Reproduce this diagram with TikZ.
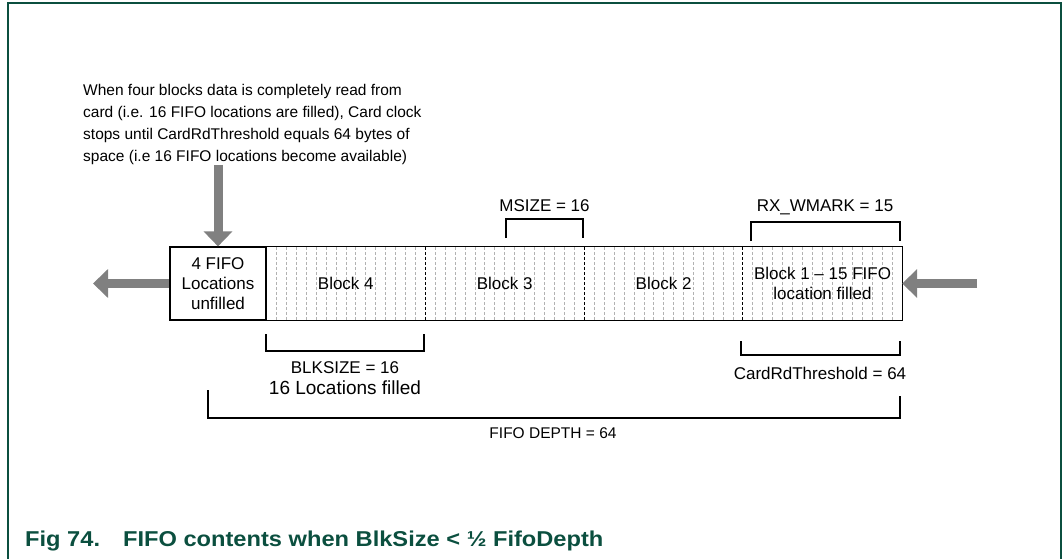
\documentclass[tikz,border=0pt]{standalone}
\usepackage{fontspec}
\setmainfont{Liberation Sans}
\newfontfamily\capfont[FakeStretch=1.1]{Liberation Sans}
\usepackage{xcolor}
\usetikzlibrary{arrows.meta, positioning, calc}

\definecolor{nxpgreen}{HTML}{0B4F3F}
\definecolor{arrowgrey}{HTML}{808080}

\tikzset{
  fifocell/.style={minimum height=73pt, inner sep=0pt, align=center, font=\fontsize{17}{20}\selectfont},
  bigarrow/.style={arrowgrey, line width=9pt, -{Triangle[width=28pt,length=15pt]}},
  bracket/.style={line width=1.2pt},
  lbl/.style={anchor=base, inner sep=0pt, font=\fontsize{17}{20}\selectfont},
  location/.style={gray!60, line width=0.6pt, dash pattern=on 3pt off 2pt},
  blockline/.style={line width=1pt, dash pattern=on 3pt off 2pt},
}

\begin{document}
\begin{tikzpicture}[x=1pt,y=-1pt]
  \useasboundingbox (0,0) rectangle (1063,559);
  % Rahmen
  \draw[nxpgreen, line width=2pt] (8,559) -- (8,3) -- (1061,3) -- (1061,559);

  % FIFO
  \node[fifocell, draw, line width=1.2pt, minimum width=96pt] (free) at (218,283.5) {4 FIFO\\Locations\\unfilled};
  \node[fifocell, minimum width=158pt, right=0pt of free] (blk4) {};
  \node[fifocell, minimum width=159pt, right=0pt of blk4] (blk3) {};
  \node[fifocell, minimum width=158pt, right=0pt of blk3] (blk2) {};
  \node[fifocell, minimum width=159pt, right=0pt of blk2] (blk1) {};
  \foreach \b in {blk4,blk3,blk2,blk1}
    \foreach \i in {1,...,15}
      \draw[location] ($(\b.north west)!\i/16!(\b.north east)$) -- ($(\b.south west)!\i/16!(\b.south east)$);
  \foreach \b in {blk4,blk3,blk2}
    \draw[blockline] (\b.north east) -- (\b.south east);
  \draw[line width=1.2pt] (free.north west) rectangle (blk1.south east);
  \node[fifocell] at (blk4) {Block 4};
  \node[fifocell] at (blk3) {Block 3};
  \node[fifocell] at (blk2) {Block 2};
  \node[fifocell] at (blk1) {Block 1 – 15 FIFO\\location filled};

  % Hinweis
  \node[anchor=north west, inner sep=0pt, align=left, font=\fontsize{15.5}{22}\selectfont] (note) at (83,84)
    {When four blocks data is completely read from\\
     card (i.e. 16 FIFO locations are filled), Card clock\\
     stops until CardRdThreshold equals 64 bytes of\\
     space (i.e 16 FIFO locations become available)};

  % Pfeile
  \coordinate (out) at (93,283.5);
  \coordinate (in) at (977,283.5);
  \draw[bigarrow] (free |- note.south) -- (free.north);
  \draw[bigarrow] (free) -- (out);
  \draw[bigarrow] (in) -- (blk1);

  % Klammern oben
  \draw[bracket] (506,238) -- (506,219) -- (583,219) -- (583,238);
  \node[lbl] (msize) at (544.5,211) {MSIZE = 16};
  \draw[bracket] (751,241) -- (751,222) -- (900,222) -- (900,241);
  \node[lbl] (wmark) at (825,211) {RX\_WMARK = 15};

  % Klammern unten
  \draw[bracket] (266,334) -- (266,351) -- (424,351) -- (424,334);
  \node[lbl] (blksize) at (345,373) {BLKSIZE = 16};
  \node[lbl, font=\fontsize{19}{22}\selectfont] (filled) at (345,394) {16 Locations filled};
  \draw[bracket] (741,341) -- (741,355) -- (900,355) -- (900,341);
  \node[lbl] (thresh) at (820,379) {CardRdThreshold = 64};
  \draw[bracket] (208,390) -- (208,418) -- (900,418) -- (900,396);
  \node[lbl, font=\fontsize{15.5}{18}\selectfont] (depth) at (553,438) {FIFO DEPTH = 64};

  % Titel
  \node[anchor=base west, inner sep=0pt, text=nxpgreen, font=\capfont\bfseries\fontsize{21.5}{24}\selectfont] (caption) at (25,546)
    {Fig 74.\hspace{23pt}FIFO contents when BlkSize < ½ FifoDepth};
\end{tikzpicture}
\end{document}
